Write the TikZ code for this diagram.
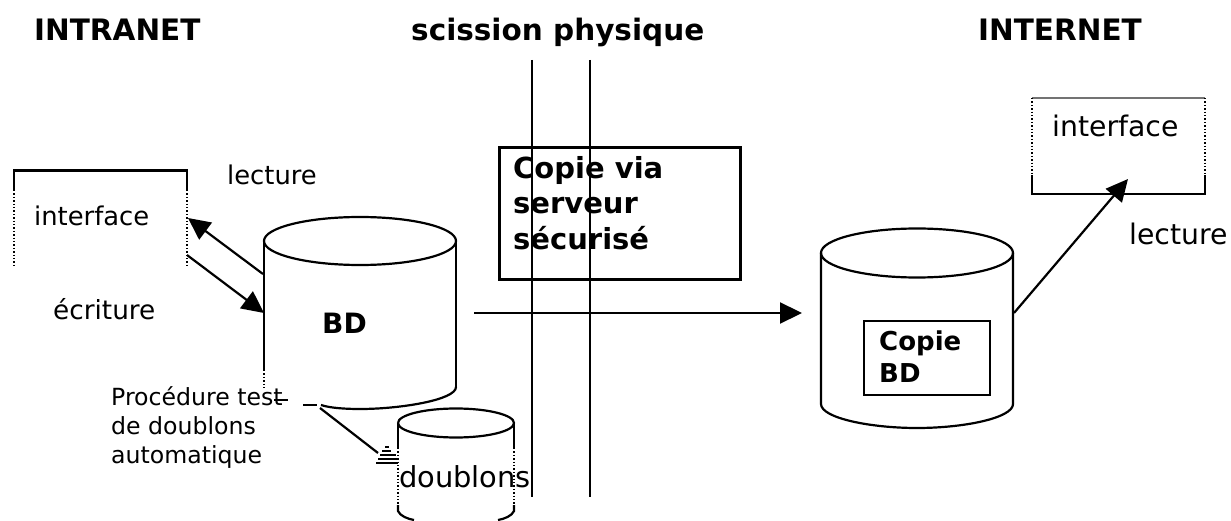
\documentclass[tikz,border=0pt]{standalone}
\usepackage{fontspec}
\setmainfont{DejaVu Sans}
\usetikzlibrary{arrows.meta}
\tikzset{
  x=1pt,y=-1pt,
  ln/.style={line width=2.2pt,black},
  dots/.style={line width=1.4pt,black,dash pattern=on 1.4pt off 2pt},
  arr/.style={ln,-{Triangle[length=22pt,width=21pt]},shorten >=0pt},
  lab/.style={anchor=base west,inner sep=0pt,font=\fontsize{25.8}{25.8}\selectfont},
  labr/.style={anchor=base west,inner sep=0pt,font=\fontsize{28.3}{28.3}\selectfont},
  small/.style={anchor=base west,inner sep=0pt,font=\fontsize{23.6}{23.6}\selectfont},
  head/.style={anchor=base west,inner sep=0pt,font=\bfseries\fontsize{29.5}{29.5}\selectfont},
  boxtxt/.style={anchor=base west,inner sep=0pt,font=\bfseries\fontsize{29}{29}\selectfont},
  boxtxts/.style={anchor=base west,inner sep=0pt,font=\bfseries\fontsize{26}{26}\selectfont},
}
\begin{document}
\begin{tikzpicture}
\useasboundingbox (0,0) rectangle (1231,521);
% copy box
\node[draw,line width=2.5pt,minimum width=241pt,minimum height=132pt,inner sep=0pt,anchor=north west] (copybox) at (498,146.5) {};
\node[boxtxt] (t1) at (513,179) {Copie via};
\node[boxtxt] (t2) at (513,214) {serveur};
\node[boxtxt] (t3) at (513,250) {sécurisé};
% separation lines
\coordinate (s1t) at (532,60); \coordinate (s1b) at (532,497);
\coordinate (s2t) at (590,60); \coordinate (s2b) at (590,497);
\draw[ln] (s1t) -- (s1b);
\draw[ln] (s2t) -- (s2b);
% headings
\node[head] (intranet) at (34,41) {INTRANET};
\node[head] (scission) at (411,41) {scission physique};
\node[head] (internet) at (978,41) {INTERNET};
% left interface
\coordinate (li1) at (14,190); \coordinate (li2) at (14,170.5); \coordinate (li3) at (187,170.5); \coordinate (li4) at (187,190);
\draw[ln] (li1) -- (li2) -- (li3) -- (li4);
\draw[dots] (14,190) -- (14,267);
\draw[dots] (187,190) -- (187,267);
\node[lab] (ifl) at (34,226) {interface};
% right interface
\draw[line width=1.2pt,black!55] (1032,98) -- (1205,98);
\draw[dots] (1032,98) -- (1032,175);
\draw[dots] (1205,98) -- (1205,175);
\coordinate (ri1) at (1032,175); \coordinate (ri2) at (1032,194); \coordinate (ri3) at (1205,194); \coordinate (ri4) at (1205,175);
\draw[ln] (ri1) -- (ri2) -- (ri3) -- (ri4);
\node[labr] (ifr) at (1052,137) {interface};
% BD cylinder
\draw[ln] (264,241) arc[start angle=180,end angle=-180,x radius=96,y radius=24];
\draw[ln] (264,241) -- (264,370);
\draw[dots] (264,370) -- (264,388);
\draw[ln] (456,241) -- (456,387);
\draw[ln] (456,387) .. controls (456,400) and (400,409) .. (360,409) .. controls (345,409) and (330,408) .. (321,405);
\draw[line width=1.3pt] (303,405) -- (317,405);
\draw[line width=1.3pt] (274,400) -- (288,400);
\node[head,font=\bfseries\fontsize{28}{28}\selectfont] (bd) at (322,333) {BD};
\coordinate (bdla) at (263,274); \coordinate (bdea) at (264,313);
\coordinate (bdlb) at (320,408);
% doublons cylinder
\draw[ln] (398,423) arc[start angle=180,end angle=-180,x radius=58,y radius=14.5];
\draw[ln] (398,423) -- (398,448);
\draw[ln] (514,423) -- (514,448);
\draw[dots] (398,448) -- (398,505);
\draw[dots] (514,448) -- (514,505);
\draw[ln] (398,505) -- (398,511) .. controls (400,516) and (408,519) .. (414,520);
\draw[ln] (514,505) -- (514,511) .. controls (512,516) and (504,519) .. (498,520);
\node[lab,font=\fontsize{28.9}{28.9}\selectfont] (dbl) at (399,487) {doublons};
\coordinate (dblin) at (378,453);
\draw[ln] (bdlb) -- (dblin);
\draw[line width=1.2pt] (385,447) -- (389,447);
\draw[line width=1.2pt] (382,451) -- (391,451);
\draw[line width=1.2pt] (380,455) -- (396,455);
\draw[line width=1.2pt] (378,459) -- (398,459);
\draw[line width=1.2pt] (376,463) -- (398,463);
% Copie BD cylinder
\draw[ln] (821,253) arc[start angle=180,end angle=-180,x radius=96,y radius=24.5];
\draw[ln] (821,253) -- (821,404) .. controls (821,418) and (870,428) .. (917,428) .. controls (964,428) and (1013,418) .. (1013,404) -- (1013,253);
\node[draw,line width=2.5pt,minimum width=126pt,minimum height=74pt,inner sep=0pt,anchor=north west] (copybd) at (862.5,319.5) {};
\node[boxtxts] (c1) at (879,350) {Copie};
\node[boxtxts] (c2) at (879,382) {BD};
\coordinate (cbdr) at (1014,313);
\coordinate (cbdin) at (802,313);
\coordinate (xfer) at (474,313);
\coordinate (ifla) at (188,218);
\coordinate (ifle) at (187,255);
\coordinate (ifra) at (1128,179);
% arrows
\draw[arr] (bdla) -- (ifla);
\draw[arr] (ifle) -- (bdea);
\draw[arr] (xfer) -- (cbdin);
\draw[arr] (cbdr) -- (ifra);
% labels
\node[lab] (l1) at (227,185) {lecture};
\node[lab,font=\fontsize{26.3}{26.3}\selectfont] (l2) at (53,319) {écriture};
\node[labr] (l3) at (1129,245) {lecture};
\node[small] (p1) at (111,405) {Procédure test};
\node[small] (p2) at (111,434) {de doublons};
\node[small] (p3) at (111,463) {automatique};
\end{tikzpicture}
\end{document}
